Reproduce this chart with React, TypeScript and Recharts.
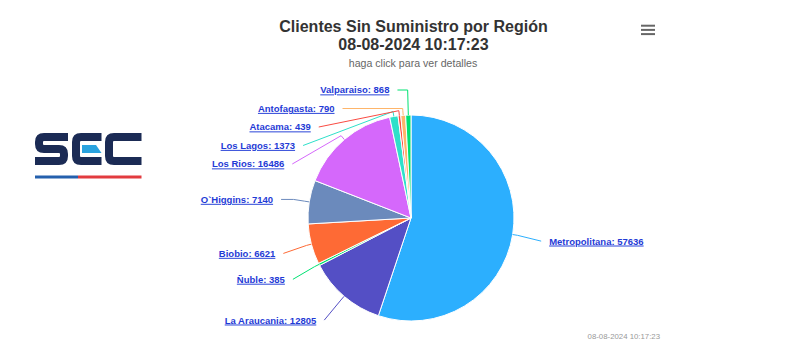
import React from 'react';
import { PieChart, Pie, Cell } from 'recharts';

const regions = ['Metropolitana', 'La Araucania', 'Ñuble', 'Biobio', 'O`Higgins', 'Los Rios', 'Los Lagos', 'Atacama', 'Antofagasta', 'Valparaiso'];
const clientes = [57636, 12805, 385, 6621, 7140, 16486, 1373, 439, 790, 868];
const colors = ['#2caffe', '#544fc5', '#00e272', '#fe6a35', '#6b8abc', '#d568fb', '#2ee0ca', '#fa4b42', '#feb56a', '#00e272'];
const titleLine1 = 'Clientes Sin Suministro por Región';
const timestamp = '08-08-2024 10:17:23';
const subtitle = 'haga click para ver detalles';

const data = regions.map((name, i) => ({ name, value: clientes[i] }));

const FONT = '"Liberation Sans", Arial, Helvetica, sans-serif';
const CX = 411;
const CY = 218;
const R = 103;
const LR = 131.7;
const LH = 18.5;
const MIN_Y = 90;
const MAX_Y = 332;
const LINK = '#1f3bd6';

function computeLabelYs(): number[] {
  const total = clientes.reduce((s, v) => s + v, 0);
  let acc = 0;
  const items = clientes.map((v, i) => {
    const mid = ((acc + v / 2) / total) * 360;
    acc += v;
    const a = ((mid - 90) * Math.PI) / 180;
    return { i, left: Math.cos(a) < 0, y: CY + LR * Math.sin(a) + 2 };
  });
  const ys: number[] = new Array(clientes.length).fill(0);
  [true, false].forEach((side) => {
    const group = items.filter((it) => it.left === side).sort((p, q) => p.y - q.y);
    for (let k = 0; k < group.length; k++) {
      group[k].y = Math.max(group[k].y, k ? group[k - 1].y + LH : MIN_Y);
    }
    for (let k = group.length - 1; k >= 0; k--) {
      group[k].y = Math.min(group[k].y, k < group.length - 1 ? group[k + 1].y - LH : MAX_Y);
    }
    group.forEach((it) => {
      ys[it.i] = it.y;
    });
  });
  return ys;
}

const labelYs = computeLabelYs();

const renderLabel = (props: any) => {
  const { cx, cy, midAngle, outerRadius, index } = props;
  const a = (-midAngle * Math.PI) / 180;
  const cos = Math.cos(a);
  const sin = Math.sin(a);
  const left = cos < 0;
  const y = labelYs[index];
  let dy = y - 3 - cy;
  dy = Math.max(-LR, Math.min(LR, dy));
  const xa = cx + (left ? -1 : 1) * Math.sqrt(Math.max(0, LR * LR - dy * dy));
  const tx = cx + outerRadius * cos;
  const ty = cy + outerRadius * sin;
  const bx = cx + (outerRadius + 5) * cos;
  const by = cy + (outerRadius + 5) * sin;
  const crookX = Math.abs(sin) > 1e-6 ? cx + ((y - cy) * cos) / sin : bx;
  let d = `M${xa},${y}`;
  if (left ? crookX >= xa && crookX <= bx : crookX <= xa && crookX >= bx) {
    d += ` L${crookX},${y}`;
  }
  d += ` L${bx},${by} L${tx},${ty}`;
  return (
    <g key={`lbl-${index}`}>
      <path d={d} stroke={colors[index]} strokeWidth={1} fill="none" />
      <text
        x={left ? xa - 8 : xa + 8}
        y={y + 3.4}
        textAnchor={left ? 'end' : 'start'}
        fontFamily={FONT}
        fontSize={9.5}
        fontWeight="bold"
        fill={LINK}
        textDecoration="underline"
        style={{ textDecoration: 'underline' }}
      >
        {`${regions[index]}: ${clientes[index]}`}
      </text>
    </g>
  );
};

export default function App() {
  return (
    <div style={{ position: 'fixed', left: 0, top: 0, width: 800, height: 363, background: '#ffffff', overflow: 'hidden' }}>
      <PieChart width={800} height={363} margin={{ top: 0, right: 0, bottom: 0, left: 0 }}>
        <Pie
          data={data}
          dataKey="value"
          nameKey="name"
          cx={CX}
          cy={CY}
          outerRadius={R}
          innerRadius={0}
          startAngle={90}
          endAngle={-270}
          stroke="#ffffff"
          strokeWidth={1}
          label={renderLabel}
          labelLine={false}
          isAnimationActive={false}
        >
          {data.map((d, i) => (
            <Cell key={d.name} fill={colors[i]} />
          ))}
        </Pie>
      </PieChart>
      <svg width={800} height={363} style={{ position: 'absolute', left: 0, top: 0, pointerEvents: 'none' }}>
        <text x={413.5} y={31.7} textAnchor="middle" fontFamily={FONT} fontSize={16} fontWeight="bold" fill="#333333">
          {titleLine1}
        </text>
        <text x={413.5} y={50} textAnchor="middle" fontFamily={FONT} fontSize={16} fontWeight="bold" fill="#333333">
          {timestamp}
        </text>
        <text x={413} y={67.3} textAnchor="middle" fontFamily={FONT} fontSize={10.6} fill="#666666">
          {subtitle}
        </text>
        <g stroke="#666666" strokeWidth={2}>
          <line x1={641} x2={655} y1={25.7} y2={25.7} />
          <line x1={641} x2={655} y1={29.9} y2={29.9} />
          <line x1={641} x2={655} y1={34.1} y2={34.1} />
        </g>
        <text x={660} y={338.5} textAnchor="end" fontFamily={FONT} fontSize={7.8} fill="#999999">
          {timestamp}
        </text>
        <g fill="none" stroke="#1b2b55" strokeWidth={8}>
          <path d="M68,137 H44 Q39,137 39,142 V144 Q39,149 44,149 H59 Q64,149 64,154 V156 Q64,161 59,161 H35" />
          <path d="M101.5,137 H81 Q76,137 76,142 V156 Q76,161 81,161 H101.5" />
          <path d="M141.5,137 H114 Q109,137 109,142 V156 Q109,161 114,161 H141.5" />
        </g>
        <path d="M82,145 H96 L101.5,153 H82 Z" fill="#2aa3df" />
        <rect x={35} y={175.5} width={43} height={3} fill="#2460ad" />
        <rect x={78} y={175.5} width={63.5} height={3} fill="#e23b3f" />
      </svg>
    </div>
  );
}
